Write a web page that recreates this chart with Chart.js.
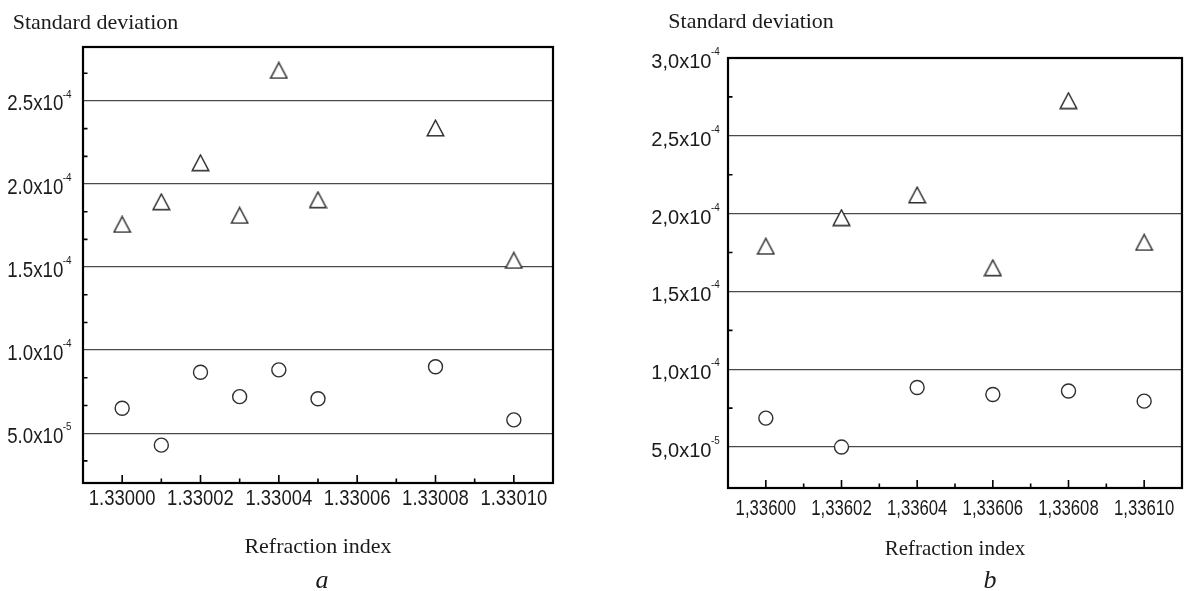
<!DOCTYPE html>
<html>
<head>
<meta charset="utf-8">
<title>Standard deviation vs refraction index</title>
<script src="https://cdn.jsdelivr.net/npm/chart.js@4.4.1/dist/chart.umd.min.js"></script>
<style>
  html, body { margin: 0; padding: 0; background: #fff; overflow: hidden; }
  .panel { position: absolute; top: 0; width: 592px; height: 591px; }
  #pa { left: 0; }
  #pb { left: 592px; }
</style>
</head>
<body>
<div class="panel" id="pa"><canvas id="chartA" width="592" height="591"></canvas></div>
<div class="panel" id="pb"><canvas id="chartB" width="592" height="591"></canvas></div>
<script>
// ---------- panel a data ----------
const xA = [1.33000, 1.33001, 1.33002, 1.33003, 1.33004, 1.33005, 1.33008, 1.33010];
const trianglesA = [1.757e-4, 1.893e-4, 2.128e-4, 1.811e-4, 2.684e-4, 1.905e-4, 2.337e-4, 1.54e-4];
const circlesA = [6.5e-5, 4.28e-5, 8.67e-5, 7.2e-5, 8.81e-5, 7.07e-5, 9.0e-5, 5.8e-5];
const xTicksA = [1.33000, 1.33002, 1.33004, 1.33006, 1.33008, 1.33010];
const xMinorA = [1.33001, 1.33003, 1.33005, 1.33007, 1.33009];
const xLabelsA = ["1.33000", "1.33002", "1.33004", "1.33006", "1.33008", "1.33010"];
const yTicksA = [5e-5, 1e-4, 1.5e-4, 2e-4, 2.5e-4];
const yMantA = ["5.0x10", "1.0x10", "1.5x10", "2.0x10", "2.5x10"];
const yExpA = ["-5", "-4", "-4", "-4", "-4"];

// ---------- panel b data ----------
const xB = [1.33600, 1.33602, 1.33604, 1.33606, 1.33608, 1.33610];
const trianglesB = [1.79e-4, 1.974e-4, 2.12e-4, 1.652e-4, 2.726e-4, 1.815e-4];
const circlesB = [6.86e-5, 5.0e-5, 8.83e-5, 8.38e-5, 8.6e-5, 7.95e-5];
const xTicksB = [1.33600, 1.33602, 1.33604, 1.33606, 1.33608, 1.33610];
const xMinorB = [1.33601, 1.33603, 1.33605, 1.33607, 1.33609];
const xLabelsB = ["1,33600", "1,33602", "1,33604", "1,33606", "1,33608", "1,33610"];
const yTicksB = [5e-5, 1e-4, 1.5e-4, 2e-4, 2.5e-4, 3e-4];
const yMantB = ["5,0x10", "1,0x10", "1,5x10", "2,0x10", "2,5x10", "3,0x10"];
const yExpB = ["-5", "-4", "-4", "-4", "-4", "-4"];
const yMinorB = [7.5e-5, 1.25e-4, 1.75e-4, 2.25e-4, 2.75e-4];

// left panel has three minor intervals per major step
const yMinorA = [];
for (let i = 1; i < 17; i++) {
    if (i % 3 !== 0) yMinorA.push(5e-5 + (i - 3) * 5e-5 / 3);
}

const SANS = '"Liberation Sans", Arial, sans-serif';
const SERIF = '"Liberation Serif", "Times New Roman", serif';
const INK = '#1b1b1b';

// hollow triangle marker, centred on its bounding box
function triangleMarker() {
    const c = document.createElement('canvas');
    c.width = 19; c.height = 18;
    const g = c.getContext('2d');
    g.beginPath();
    g.moveTo(9.5, 1.2);
    g.lineTo(1.2, 16.8);
    g.lineTo(17.8, 16.8);
    g.closePath();
    g.fillStyle = '#fff';
    g.fill();
    g.lineWidth = 1.4;
    g.strokeStyle = '#2e2e2e';
    g.stroke();
    return c;
}
const tri = triangleMarker();

// draw text squeezed horizontally
function text(ctx, str, x, y, font, align, sx) {
    ctx.save();
    ctx.font = font;
    const w = ctx.measureText(str).width * sx;
    let left = x;
    if (align === 'center') left = x - w / 2;
    if (align === 'right') left = x - w;
    ctx.translate(left, y);
    ctx.scale(sx, 1);
    ctx.fillText(str, 0, 0);
    ctx.restore();
    return w;
}

const decor = {
    id: 'decor',
    afterDraw(chart, args, o) {
        const { ctx, chartArea: a, scales: { x, y } } = chart;
        ctx.save();
        ctx.strokeStyle = '#000';
        ctx.lineWidth = 1.6;
        ctx.beginPath();
        o.xMajor.forEach(v => {
            const px = x.getPixelForValue(v);
            ctx.moveTo(px, a.bottom); ctx.lineTo(px, a.bottom - o.majorLen);
        });
        o.xMinor.forEach(v => {
            const px = x.getPixelForValue(v);
            ctx.moveTo(px, a.bottom); ctx.lineTo(px, a.bottom - o.minorLen);
        });
        o.yMinor.forEach(v => {
            const py = y.getPixelForValue(v);
            if (py < a.top + 2 || py > a.bottom - 2) return;
            ctx.moveTo(a.left, py); ctx.lineTo(a.left + o.minorLen, py);
        });
        ctx.stroke();

        // frame
        ctx.lineWidth = 2.2;
        ctx.strokeRect(a.left, a.top, a.right - a.left, a.bottom - a.top);

        ctx.fillStyle = INK;
        ctx.textBaseline = 'alphabetic';

        // x tick labels
        o.xMajor.forEach((v, i) => {
            text(ctx, o.xLabels[i], x.getPixelForValue(v), a.bottom + o.xLabelDy,
                o.xFont, 'center', o.xSx);
        });

        // y tick labels with superscript exponent
        o.yMajor.forEach((v, i) => {
            const py = y.getPixelForValue(v);
            const right = a.left - o.yGap;
            text(ctx, o.yMant[i], right, py + o.yLabelDy, o.yFont, 'right', o.ySx);
            text(ctx, o.yExp[i], right - 0.5, py + o.expDy, o.expFont, 'left', 0.9);
        });

        // titles
        text(ctx, 'Standard deviation', o.titleX, o.titleY, '22px ' + SERIF, 'left', 1);
        const cx = (a.left + a.right) / 2;
        text(ctx, 'Refraction index', cx, a.bottom + o.xTitleDy, o.xTitleFont, 'center', 1);
        text(ctx, o.letter, cx + o.letterDx, 588, 'italic 26px ' + SERIF, 'center', 1);
        ctx.restore();
    }
};

function makePanel(id, xs, tris, circs, xMin, xMax, yMin, yMax, yGrid, padding, deco) {
    const pts = ys => xs.map((v, i) => ({ x: v, y: ys[i] }));
    return new Chart(document.getElementById(id), {
        type: 'scatter',
        data: {
            datasets: [
                {
                    label: 'circles',
                    data: pts(circs),
                    pointStyle: 'circle',
                    pointRadius: 7,
                    pointBorderWidth: 1.4,
                    pointBorderColor: '#2e2e2e',
                    pointBackgroundColor: '#fff'
                },
                {
                    label: 'triangles',
                    data: pts(tris),
                    pointStyle: tri,
                    pointRadius: 9
                }
            ]
        },
        options: {
            responsive: false,
            animation: false,
            events: [],
            layout: { padding, autoPadding: false },
            plugins: {
                legend: { display: false },
                tooltip: { enabled: false },
                decor: deco
            },
            scales: {
                x: {
                    type: 'linear',
                    min: xMin,
                    max: xMax,
                    ticks: { display: false },
                    grid: { display: false },
                    border: { display: false }
                },
                y: {
                    type: 'linear',
                    min: yMin,
                    max: yMax,
                    afterBuildTicks: s => { s.ticks = yGrid.map(v => ({ value: v })); },
                    ticks: { display: false },
                    grid: { color: '#4a4a4a', lineWidth: 1.3, drawTicks: false },
                    border: { display: false }
                }
            }
        },
        plugins: [decor]
    });
}

makePanel('chartA', xA, trianglesA, circlesA, 1.32999, 1.33011, 2.0e-5, 2.825e-4, yTicksA,
    { left: 83, right: 39, top: 47, bottom: 100 },
    {
        xMajor: xTicksA, xMinor: xMinorA, xLabels: xLabelsA,
        yMajor: yTicksA, yMinor: yMinorA, yMant: yMantA, yExp: yExpA,
        majorLen: 8, minorLen: 4.5,
        xFont: '22px ' + SANS, xSx: 0.84, xLabelDy: 22,
        yFont: '22px ' + SANS, ySx: 0.85, yGap: 19.7, yLabelDy: 9.5,
        expFont: '11px ' + SANS, expDy: -2.7,
        titleX: 12.7, titleY: 29.3,
        xTitleDy: 70, xTitleFont: '22px ' + SERIF,
        letter: 'a', letterDx: 4
    });

makePanel('chartB', xB, trianglesB, circlesB, 1.33599, 1.33611, 2.37e-5, 3.0e-4, yTicksB,
    { left: 136, right: 2, top: 58, bottom: 95 },
    {
        xMajor: xTicksB, xMinor: xMinorB, xLabels: xLabelsB,
        yMajor: yTicksB, yMinor: yMinorB, yMant: yMantB, yExp: yExpB,
        majorLen: 8, minorLen: 4.5,
        xFont: '22px ' + SANS, xSx: 0.76, xLabelDy: 27,
        yFont: '20px ' + SANS, ySx: 1.0, yGap: 16.6, yLabelDy: 10,
        expFont: '11px ' + SANS, expDy: -3,
        titleX: 76.3, titleY: 28.3,
        xTitleDy: 67, xTitleFont: '21px ' + SERIF,
        letter: 'b', letterDx: 35
    });
</script>
</body>
</html>
